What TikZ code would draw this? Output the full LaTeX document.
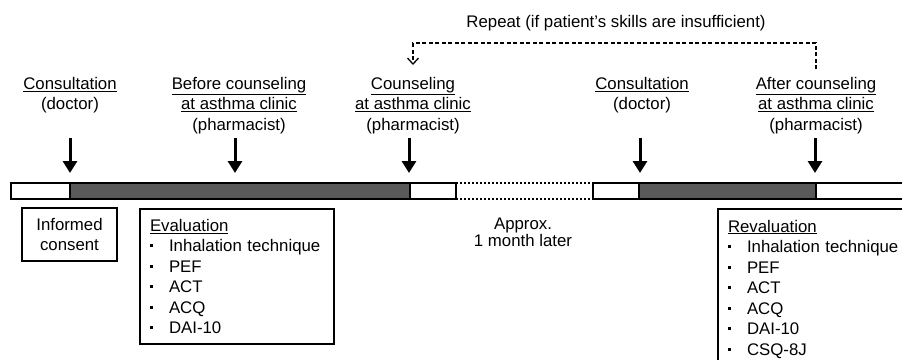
\documentclass[tikz,border=0pt]{standalone}
\usepackage{fontspec}
\setmainfont{Liberation Sans}
\usetikzlibrary{arrows.meta}

\definecolor{bardark}{RGB}{89,89,89}
\newcommand{\itm}{\makebox[19pt][l]{\raisebox{4.5pt}{\rule{3pt}{3pt}}}}

\begin{document}
\begin{tikzpicture}[x=1pt,y=-1pt,
	font=\fontsize{16.8}{20.5}\selectfont,
	stage/.style={anchor=north,align=center,inner sep=0pt},
	seg/.style={draw,line width=2pt,anchor=west,minimum height=16pt,inner sep=0pt,outer sep=0pt},
	evtarrow/.style={line width=3pt,-{Triangle[length=12pt,width=14pt]}},
	repeatline/.style={line width=1.3pt,dash pattern=on 4pt off 2.5pt,-{Straight Barb[length=6pt,width=11pt]}},
	infobox/.style={draw,line width=2pt,inner xsep=10pt,align=left}]
			\useasboundingbox (0,0) rectangle (902,359);
			
			% Stage labels
			\node[stage] (cons1) at (70,77) {\underline{Consultation}\\(doctor)};
			\node[stage] (before) at (239,77) {\underline{Before counseling}\\\underline{at asthma clinic}\\(pharmacist)};
			\node[stage] (coun) at (413,77) {\underline{Counseling}\\\underline{at asthma clinic}\\(pharmacist)};
			\node[stage] (cons2) at (642,77) {\underline{Consultation}\\(doctor)};
			\node[stage] (after) at (816,77) {\underline{After counseling}\\\underline{at asthma clinic}\\(pharmacist)};
			
			% Repeat loop
			\node[anchor=north,inner sep=0pt] (rep) at (616,15) {Repeat (if patient’s skills are insufficient)};
			\draw[repeatline,shorten <=8pt,shorten >=12pt] (after.north) -- ++(0,-34) -| (coun.north);
			
			% Time bar
			\node[seg,fill=white,minimum width=59pt] (w1) at (11,191) {};
			\node[seg,fill=bardark,minimum width=340pt] (dark1) at (70,191) {};
			\node[seg,fill=white,minimum width=46pt] (w2) at (410,191) {};
			\node[seg,dash pattern=on 2pt off 2pt,minimum width=137pt] (gap) at (456,191) {};
			\node[seg,fill=white,minimum width=46pt] (w3) at (593,191) {};
			\node[seg,fill=bardark,minimum width=177pt] (dark2) at (639,191) {};
			\draw[line width=2pt] (dark2.north east) -- ++(100,0) (dark2.south east) -- ++(100,0);
			
			% Event arrows
			\foreach \x [count=\i] in {70,235,409,640,815} {
				\coordinate (s\i) at (\x,138);
				\coordinate (e\i) at (\x,173);
				\draw[evtarrow] (s\i) -- (e\i);
			}
			
			% Boxes below the bar
			\node[infobox,align=center,minimum width=95pt,minimum height=53pt] (consent) at (69.5,234.5) {Informed\\consent};
			\node[infobox,anchor=north west,minimum height=135pt,text width=174pt] (eval) at (139,208) {\underline{Evaluation}\\\itm Inhalation technique\\\itm PEF\\\itm ACT\\\itm ACQ\\\itm DAI-10};
			\node[align=center,inner sep=0pt,font={\fontsize{16.8}{17}\selectfont}] (later) at (523,232) {Approx.\\1 month later};
			\node[infobox,anchor=north west,minimum height=160pt,text width=180pt] (reval) at (717,208) {\underline{Revaluation}\\\itm Inhalation technique\\\itm PEF\\\itm ACT\\\itm ACQ\\\itm DAI-10\\\itm CSQ-8J};
		\end{tikzpicture}
\end{document}
